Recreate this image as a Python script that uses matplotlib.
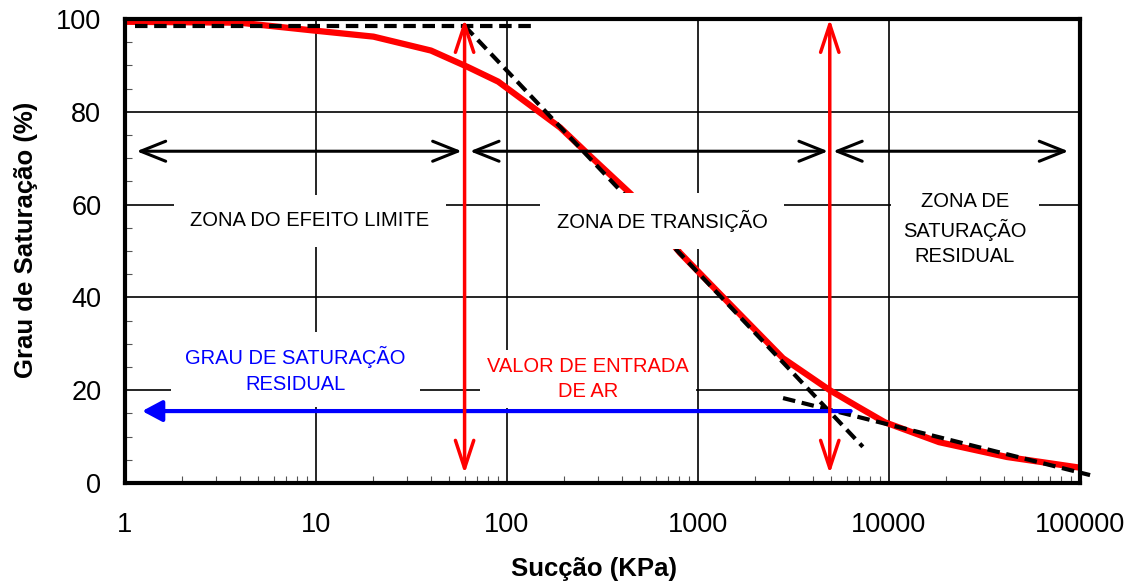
import matplotlib
matplotlib.use("Agg")
import matplotlib.pyplot as plt
from matplotlib import font_manager
from matplotlib.ticker import FixedLocator, MultipleLocator, LogLocator, NullFormatter

# curva de retencao (succao em kPa x grau de saturacao em %)
succao = [1, 4, 9.3, 20, 40, 62, 90, 190, 272, 445, 805, 1336, 2786,
          4900, 6900, 9500, 18300, 41500, 100000]
saturacao = [99.4, 99.2, 97.6, 96.2, 93.2, 89.7, 86.5, 76.6, 70.5, 62.3, 49.6,
             40.3, 26.9, 20.0, 16.4, 13.1, 8.8, 5.6, 3.3]

# tangentes tracejadas
tang1_x = [1.13, 140]
tang1_y = [98.5, 98.5]
tang2_x = [60, 7300]
tang2_y = [98.5, 7.8]
tang3_x = [2790, 113000]
tang3_y = [18.3, 1.7]

# valores de entrada de ar e saturacao residual
entrada_ar = [60, 4900]
sat_residual = 15.5
blue_x = [6300, 1.23]

# limites das zonas
zonas = [(1.15, 58), (64, 4800), (5100, 87000)]
zona_y = 71.5

x_ticks = [1, 10, 100, 1000, 10000, 100000]
x_labels = ["1", "10", "100", "1000", "10000", "100000"]
y_ticks = [0, 20, 40, 60, 80, 100]

plt.rcParams['font.family'] = ['Liberation Sans', 'DejaVu Sans']

nomes = {f.name for f in font_manager.fontManager.ttflist}
if "Liberation Sans Narrow" in nomes:
    fonte_zona = ["Liberation Sans Narrow", "Liberation Sans"]
    tam_zona = 17
else:
    fonte_zona = ["Liberation Sans", "DejaVu Sans"]
    tam_zona = 14.5

fig = plt.figure(figsize=(11.32, 5.88), dpi=100)
ax = fig.add_axes([0.1104, 0.1786, 0.8436, 0.7891])
ax.set_xscale('log')
ax.set_xlim(1, 100000)
ax.set_ylim(0, 100)

ax.xaxis.set_major_locator(FixedLocator(x_ticks))
ax.set_xticklabels(x_labels)
ax.xaxis.set_minor_locator(LogLocator(base=10, subs=range(2, 10)))
ax.xaxis.set_minor_formatter(NullFormatter())
ax.yaxis.set_major_locator(FixedLocator(y_ticks))
ax.yaxis.set_minor_locator(MultipleLocator(5))

ax.grid(True, which='major', color='black', lw=1.2, zorder=0.5)
ax.set_axisbelow(True)
ax.tick_params(which='major', direction='in', length=0, labelsize=19.5)
ax.tick_params(axis='x', which='major', pad=21)
ax.tick_params(axis='y', which='major', pad=17)
ax.tick_params(which='minor', direction='in', length=5, width=0.8, color='#555555')
for s in ax.spines.values():
    s.set_linewidth(3)
    s.set_zorder(6)

# curva e tangentes
ax.plot(succao, saturacao, color='red', lw=4.5, zorder=2, solid_capstyle='butt')
for tx, ty in [(tang1_x, tang1_y), (tang2_x, tang2_y), (tang3_x, tang3_y)]:
    ax.plot(tx, ty, color='black', lw=3, ls=(0, (3, 1.6)), zorder=2.5, clip_on=False)

# textos das zonas
caixa = dict(facecolor='white', edgecolor='none', pad=12)
ax.text(9.3, 56.5, "ZONA DO EFEITO LIMITE", ha='center', va='center',
        fontsize=tam_zona, family=fonte_zona, bbox=caixa, zorder=3)
ax.text(648, 56.5, "ZONA DE TRANSIÇÃO", ha='center', va='center',
        fontsize=tam_zona, family=fonte_zona, bbox=caixa, zorder=3)
ax.text(25000, 54.7, "ZONA DE\nSATURAÇÃO\nRESIDUAL", ha='center', va='center',
        fontsize=tam_zona, family=fonte_zona, bbox=dict(facecolor='white', edgecolor='none', pad=9),
        zorder=3, linespacing=1.43)
ax.text(7.8, 24.4, "GRAU DE SATURAÇÃO\nRESIDUAL", ha='center', va='center',
        fontsize=tam_zona, family=fonte_zona, color='blue',
        bbox=dict(facecolor='white', edgecolor='none', pad=10), zorder=3, linespacing=1.43)

# seta azul (saturacao residual)
ax.annotate('', xy=(blue_x[1], sat_residual), xytext=(blue_x[0], sat_residual),
            arrowprops=dict(arrowstyle='-|>,head_length=0.6,head_width=0.32',
                            mutation_scale=20, color='blue', lw=3,
                            shrinkA=0, shrinkB=0), zorder=3.5)

ax.text(266, 22.4, "VALOR DE ENTRADA\nDE AR", ha='center', va='center',
        fontsize=tam_zona, family=fonte_zona, color='red',
        bbox=dict(facecolor='white', edgecolor='none', pad=5), zorder=3.8, linespacing=1.43)

# setas das zonas
for x0, x1 in zonas:
    ax.annotate('', xy=(x1, zona_y), xytext=(x0, zona_y),
                arrowprops=dict(arrowstyle='<->,head_length=0.9,head_width=0.36',
                                mutation_scale=20, color='black', lw=2.2,
                                shrinkA=0, shrinkB=0), zorder=4)

# setas vermelhas (valor de entrada de ar)
for xa in entrada_ar:
    ax.annotate('', xy=(xa, 100), xytext=(xa, 2),
                arrowprops=dict(arrowstyle='<->,head_length=1.0,head_width=0.33',
                                mutation_scale=20, color='red', lw=2.5,
                                shrinkA=0, shrinkB=0), zorder=5)

ax.set_xlabel("Sucção (KPa)", fontsize=18.5, fontweight='bold')
ax.set_ylabel("Grau de Saturação (%)", fontsize=18.5, fontweight='bold')
ax.xaxis.set_label_coords(0.491, -0.16)
ax.yaxis.set_label_coords(-0.091, 0.524)

fig.savefig("out.png", dpi=100)
